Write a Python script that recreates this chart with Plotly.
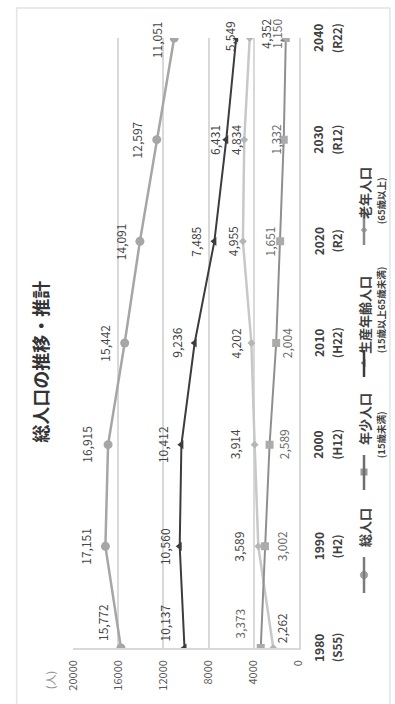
import plotly.graph_objects as go

W, H = 395, 704
FONT = "Noto Sans CJK JP"

# ---- data ---------------------------------------------------------------
years = [1980, 1990, 2000, 2010, 2020, 2030, 2040]
year_labels = ["1980", "1990", "2000", "2010", "2020", "2030", "2040"]
era_labels = ["(S55)", "(H2)", "(H12)", "(H22)", "(R2)", "(R12)", "(R22)"]

total = [15772, 17151, 16915, 15442, 14091, 12597, 11051]
youth = [3373, 3002, 2589, 2004, 1651, 1332, 1150]
working = [10137, 10560, 10412, 9236, 7485, 6431, 5549]
elderly = [2262, 3589, 3914, 4202, 4955, 4834, 4352]

value_ticks = [0, 4000, 8000, 12000, 16000, 20000]

series_names = ["総人口", "年少人口", "生産年齢人口", "老年人口"]
series_notes = ["", "(15歳未満)", "(15歳以上65歳未満)", "(65歳以上)"]
title_text = "総人口の推移・推計"
unit_text = "(人)"

# ---- styling --------------------------------------------------------------
colors = ["#a6a6a6", "#8f8f8f", "#3c3c3c", "#c8c8c8"]
marker_colors = ["#a6a6a6", "#ababab", "#3c3c3c", "#b5b5b5"]
legend_colors = ["#7a7a7a", "#6e6e6e", "#3c3c3c", "#8a8a8a"]
symbols = ["circle", "square", "triangle-left", "diamond"]
msizes = [9, 8, 8, 6]
widths = [2.5, 2, 2, 2.5]

# label offsets (pixels) relative to each point: (dx right, dy down)
label_offsets = [
    [(-19, -26), (-20, 0), (-21, 0), (-21, 0), (-20, 0), (-20, 0), (-17, 2)],
    [(-22, -24), (16, 0), (14, 0), (10, 0), (-11, 0), (-8, 0), (-9, -4)],
    [(-20, -25), (-15, 0), (-19, 0), (-19, 0), (-19, 0), (-12, 0), (-6, -2)],
    [(8, -20), (-20, 0), (-20, 0), (-16, 0), (-11, 0), (-9, 0), (16, -4)],
]
label_colors = ["#454545", "#6a6a6a", "#404040", "#454545"]

# plot area in pixels
PX0, PX1 = 67, 302     # 20000 ... 0
PY0, PY1 = 38, 648     # 2040 ... 1980


def px(x):
    return x / W


def py(y):
    return 1 - y / H


def vtext(**kw):
    """Vertical (bottom-to-top) text annotation centred on its anchor."""
    base = dict(showarrow=False, textangle=-90,
                xanchor="center", yanchor="middle")
    base.update(kw)
    return base


fig = go.Figure()

all_series = [total, youth, working, elderly]
draw_order = [3, 1, 0, 2]
for i in draw_order:
    fig.add_trace(go.Scatter(
        x=all_series[i], y=years, mode="lines+markers", name=series_names[i],
        line=dict(color=colors[i], width=widths[i]),
        marker=dict(symbol=symbols[i], size=msizes[i], color=marker_colors[i]),
        hoverinfo="skip", showlegend=False,
        xaxis="x", yaxis="y",
    ))

annotations = []

# data labels
for i, vals in enumerate(all_series):
    for j, v in enumerate(vals):
        dx, dy = label_offsets[i][j]
        annotations.append(vtext(
            x=v, y=years[j], xref="x", yref="y", text=f"{v:,}",
            xshift=dx, yshift=-dy,
            font=dict(family=FONT, size=12, color=label_colors[i]),
        ))

# category labels (years, era)
for j, yv in enumerate(years):
    annotations.append(vtext(
        x=px(322), y=yv, xref="paper", yref="y", text=year_labels[j],
        font=dict(family=FONT, size=12, color="#404040", weight="bold"),
    ))
    annotations.append(vtext(
        x=px(342), y=yv, xref="paper", yref="y", text=era_labels[j],
        font=dict(family=FONT, size=11.5, color="#404040", weight="bold"),
    ))

# title and unit
annotations.append(vtext(
    x=px(32), y=py(362), xref="paper", yref="paper", text=title_text,
    font=dict(family=FONT, size=18, color="#333333", weight="bold"),
))
annotations.append(vtext(
    x=px(43), y=py(680), xref="paper", yref="paper", text=unit_text,
    font=dict(family=FONT, size=11, color="#8c8c8c"),
))

# legend (rotated): symbol line spans, marker centre, text centres
leg_x = 370
leg_note_x = 388
leg_lines = [(593, 557), (490, 455), (377, 350), (245, 215)]
leg_marks = [575, 472, 363, 230]
leg_text_y = [528, 419, 315, 193]
leg_note_y = [None, 435, 310, 201]

shapes = []
for k in range(4):
    y0, y1 = leg_lines[k]
    shapes.append(dict(type="line", xref="paper", yref="paper",
                       x0=px(leg_x), x1=px(leg_x), y0=py(y0), y1=py(y1),
                       line=dict(color=legend_colors[k], width=2.5)))
    annotations.append(vtext(
        x=px(leg_x), y=py(leg_text_y[k]), xref="paper", yref="paper",
        text=series_names[k],
        font=dict(family=FONT, size=13, color="#404040", weight="bold"),
    ))
    if series_notes[k]:
        annotations.append(vtext(
            x=px(leg_note_x), y=py(leg_note_y[k]), xref="paper", yref="paper",
            text=series_notes[k],
            font=dict(family=FONT, size=9.5, color="#404040", weight="bold"),
        ))

fig.add_trace(go.Scatter(
    x=[leg_x] * 4, y=leg_marks, mode="markers",
    marker=dict(symbol=symbols, size=msizes, color=legend_colors),
    hoverinfo="skip", showlegend=False, xaxis="x2", yaxis="y2",
))

# faint chart-area border
shapes.append(dict(type="rect", xref="paper", yref="paper",
                   x0=px(8), x1=px(W + 2), y0=py(8), y1=py(H + 2),
                   line=dict(color="#e4e4e4", width=1.5), layer="below"))

fig.update_layout(
    width=W, height=H,
    margin=dict(l=0, r=0, t=0, b=0),
    paper_bgcolor="white", plot_bgcolor="rgba(0,0,0,0)",
    showlegend=False,
    xaxis=dict(
        domain=[px(PX0), px(PX1)], range=[20000, 0],
        tickvals=value_ticks, ticktext=[str(v) for v in value_ticks],
        tickangle=-90, showgrid=True, gridcolor="#d9d9d9", gridwidth=1.5,
        showline=True, linecolor="#d9d9d9", linewidth=1.5,
        zeroline=False, ticks="", ticklabelstandoff=6,
        tickfont=dict(family=FONT, size=11, color="#595959"),
        fixedrange=True, anchor="y",
    ),
    yaxis=dict(
        domain=[py(PY1), py(PY0)], range=[1980, 2040],
        showgrid=False, zeroline=False, showticklabels=False,
        showline=True, linecolor="#d9d9d9", linewidth=1.5, side="right",
        fixedrange=True, anchor="x",
    ),
    xaxis2=dict(domain=[0, 1], range=[0, W], visible=False,
                fixedrange=True, anchor="y2"),
    yaxis2=dict(domain=[0, 1], range=[H, 0], visible=False,
                fixedrange=True, anchor="x2"),
    annotations=annotations,
    shapes=shapes,
)

fig.write_html("out.html")
